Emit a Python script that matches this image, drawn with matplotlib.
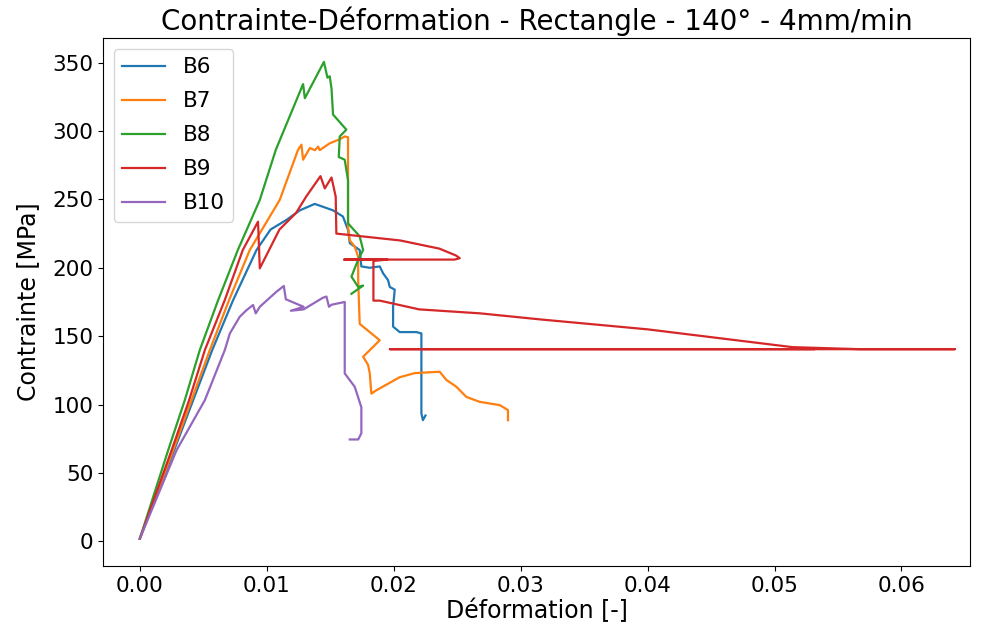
import matplotlib
matplotlib.use("Agg")
import matplotlib.pyplot as plt

# Stress-strain curves, strain [-] and stress [MPa]
b6_strain = [0.0, 0.0027, 0.0042, 0.0057, 0.00735, 0.00919, 0.0103, 0.01155, 0.0126, 0.01378,
             0.01522, 0.0160, 0.0164, 0.01654, 0.01732, 0.01745, 0.01811, 0.0189, 0.01916,
             0.01955, 0.01969, 0.02008, 0.01995, 0.01995, 0.02047, 0.02179, 0.02218, 0.02218,
             0.0223, 0.0225]
b6_stress = [2.0, 66.6, 103.2, 139.8, 176.4, 213.0, 228.0, 235.0, 242.0, 246.7,
             242.0, 237.5, 227.7, 218.0, 213.0, 201.0, 200.0, 201.0, 196.0,
             191.0, 186.0, 184.0, 171.5, 157.0, 153.0, 153.0, 152.0, 93.5,
             88.6, 92.0]

b7_strain = [0.0, 0.00262, 0.00407, 0.00551, 0.00703, 0.00866, 0.01102, 0.01246, 0.01273,
             0.01286, 0.01339, 0.0138, 0.01404, 0.01417, 0.01496, 0.01575, 0.01614, 0.0164,
             0.0164, 0.01654, 0.01693, 0.0172, 0.0172, 0.01732, 0.0189, 0.01759, 0.01798,
             0.01811, 0.01824, 0.01864, 0.02047, 0.02165, 0.02362, 0.02415, 0.02494,
             0.02572, 0.02677, 0.02835, 0.0290, 0.0290]
b7_stress = [2.0, 66.6, 103.2, 139.8, 176.4, 213.0, 249.6, 286.2, 290.0,
             279.0, 287.5, 286.0, 288.6, 286.0, 291.0, 294.0, 296.0, 295.5,
             230.0, 220.0, 215.5, 208.0, 191.0, 159.0, 147.0, 135.0, 129.0,
             123.0, 108.0, 110.5, 120.0, 123.0, 124.0, 118.0, 113.0,
             105.6, 102.0, 99.6, 96.0, 88.6]

b8_strain = [0.0, 0.00223, 0.00354, 0.00472, 0.00617, 0.00772, 0.00945, 0.01071, 0.01286,
             0.0130, 0.0145, 0.01478, 0.01496, 0.0151, 0.01522, 0.01627, 0.01575, 0.01567,
             0.01614, 0.0164, 0.0164, 0.01732, 0.01759, 0.0172, 0.01667, 0.0172, 0.01759,
             0.01667]
b8_stress = [2.0, 66.6, 103.2, 139.8, 176.4, 213.0, 249.6, 286.2, 334.3,
             324.0, 350.5, 339.0, 340.0, 331.0, 312.0, 301.0, 296.0, 281.0,
             279.0, 264.0, 232.5, 223.0, 213.0, 206.0, 193.5, 186.0, 187.0,
             181.0]

b9_strain = [0.0, 0.0025, 0.00388, 0.00512, 0.00669, 0.00811, 0.00931, 0.00945, 0.0110,
             0.0123, 0.0131, 0.01423, 0.01457, 0.0151, 0.01543, 0.01548, 0.0205, 0.0236,
             0.0249, 0.0252, 0.0248, 0.0161, 0.0195, 0.0184, 0.0184, 0.0189, 0.0220,
             0.0268, 0.0315, 0.0400, 0.0514, 0.0567, 0.0642, 0.0197, 0.0531]
b9_stress = [2.0, 66.6, 103.2, 139.8, 176.4, 213.0, 233.7, 199.6, 228.0,
             240.0, 252.0, 267.0, 258.0, 266.0, 252.0, 225.0, 220.0, 214.0,
             209.0, 207.0, 206.0, 206.0, 206.0, 205.0, 176.0, 176.0, 169.6,
             166.7, 162.3, 155.0, 142.0, 140.5, 140.5, 140.5, 140.5]

b10_strain = [0.0, 0.00289, 0.00512, 0.00669, 0.00709, 0.00787, 0.0084, 0.00892, 0.00913,
              0.00945, 0.01076, 0.01134, 0.0115, 0.0129, 0.0119, 0.0129, 0.0144, 0.0147,
              0.0149, 0.0151, 0.01614, 0.01614, 0.01693, 0.01745, 0.01745, 0.0172, 0.01654]
b10_stress = [2.0, 66.6, 103.2, 139.8, 152.0, 164.2, 169.0, 172.8, 166.7,
              171.5, 182.5, 186.7, 177.0, 171.5, 168.6, 169.6, 178.0, 179.0,
              171.5, 173.0, 175.0, 122.8, 113.0, 98.0, 79.0, 74.5, 74.5]

labels = ["B6", "B7", "B8", "B9", "B10"]
series = [(b6_strain, b6_stress), (b7_strain, b7_stress), (b8_strain, b8_stress),
          (b9_strain, b9_stress), (b10_strain, b10_stress)]

fig = plt.figure(figsize=(9.85, 6.3), dpi=100)
ax = fig.add_axes([0.1046, 0.1016, 0.8802, 0.8381])

for (x, y), lab in zip(series, labels):
    ax.plot(x, y, label=lab, linewidth=1.6)

ax.set_xlim(-0.0029, 0.0654)
ax.set_ylim(-18, 368)
ax.set_xticks([0.0, 0.01, 0.02, 0.03, 0.04, 0.05, 0.06])
ax.set_yticks([0, 50, 100, 150, 200, 250, 300, 350])
ax.tick_params(labelsize=15.5)
ax.set_xlabel("Déformation [-]", fontsize=17, labelpad=2)
ax.set_ylabel("Contrainte [MPa]", fontsize=17, labelpad=9)
ax.set_title("Contrainte-Déformation - Rectangle - 140° - 4mm/min", fontsize=20)
ax.legend(loc="upper left", fontsize=15.5, labelspacing=0.65)

fig.savefig("out.png", dpi=100)
